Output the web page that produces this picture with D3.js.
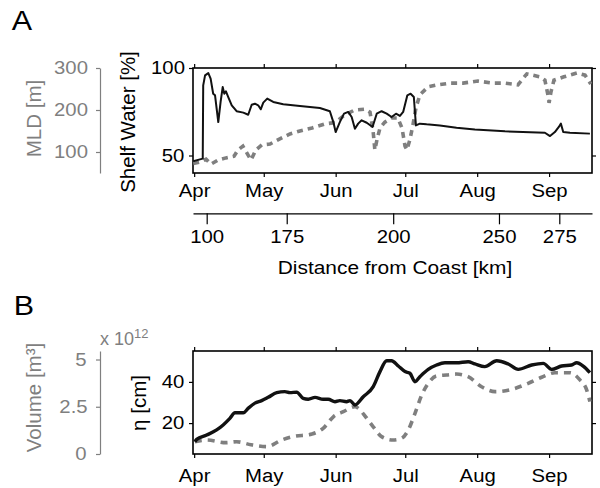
<!DOCTYPE html>
<html>
<head>
<meta charset="utf-8">
<script src="https://cdn.jsdelivr.net/npm/d3@7"></script>
<style>
  body { margin: 0; background: #fff; }
  svg text { font-family: "Liberation Sans", Arial, Helvetica, sans-serif; }
  .sx { transform-box: fill-box; transform-origin: center; transform: scaleX(1.13); }
</style>
</head>
<body>
<svg width="600" height="488"></svg>
<script>
// days after 1 April, value
const shelfWater = [[-0.4,46.7],[2.5,47.8],[3.7,48.2],[3.9,90.1],[4.7,95.8],[6.1,97.1],[7.1,93.9],
  [8.2,85.3],[9.0,84.4],[10.4,69.1],[11.4,80.6],[12.3,89.1],[13.0,85.3],[13.7,86.7],[14.7,83.4],
  [16.2,78.7],[18.3,75.3],[21.2,74.5],[23.3,73.3],[24.8,79],[26.2,79.6],[27.6,78.7],[28.7,76.4],
  [29.8,80.2],[31.5,82.5],[34.1,80.6],[38.4,79.3],[45.6,78.3],[54.2,77.1],[58.5,75.3],[60.0,69.1],
  [61.0,63.4],[62.8,69.1],[64.6,73.9],[66.4,74.9],[67.9,72],[69.3,65.3],[70.7,68.2],[72.2,70.1],
  [74.4,68.7],[76.9,66.3],[78.7,73.9],[80.8,75.3],[83.0,73.9],[85.1,72],[87.0,73.9],[88.7,72.6],
  [90.1,74.9],[91.9,84.4],[93.3,85.3],[94.7,83.4],[95.6,67.2],[97.3,68.2],[100.2,67.8],[105.9,67.2],
  [113.1,65.9],[121.0,64.8],[134.0,63.8],[151.2,63],[153.4,61.1],[155.5,63.4],[157.2,66.3],
  [158.1,68.2],[159.1,63.4],[162.0,63],[170.6,62.5]];

const mld = [[-0.4,72.6],[2.5,76],[5.1,83],[7.2,71],[10.3,81],[13.7,86],[17.2,90],[18.9,105],
  [21.0,114],[23.2,93],[24.5,81],[26.6,105],[29.2,117],[32.7,119],[36.1,129],[41.3,143],[45.6,150],
  [50.8,157],[56.4,167],[60.7,170],[64.9,188],[69.2,200],[73.5,202],[75.8,195],[77.1,152],[77.9,105],
  [78.8,129],[80.1,157],[82.2,171],[85.2,181],[87.8,181],[89.6,157],[90.9,114],[91.7,105],[93.0,129],
  [94.3,164],[95.6,205],[97.3,236],[100.8,255],[105.1,260],[110.3,264],[115.9,264],[122.3,269],
  [128.8,264],[134.0,264],[139.6,260],[143.4,286],[149.1,279],[151.2,271],[152.5,236],[153.0,217],
  [153.8,243],[155.1,271],[159.4,279],[165.0,288],[168.5,283],[171.0,262]];

const eta = [[0.3,11],[1.1,12.1],[5.4,14.2],[9.7,16.7],[12.5,19.1],[15.4,22.3],[17.6,25],[21.2,25],
  [23.3,27.2],[26.2,29.7],[29.1,30.9],[31.9,32.5],[35.6,34.8],[39.1,35.3],[41.3,34.8],[44.2,35],
  [47.0,32],[49.2,31.6],[52.1,32.5],[55.6,31.6],[57.8,31.6],[60.7,30.4],[62.8,30.9],[65.7,30.4],
  [67.2,30.9],[69.3,28.8],[72.9,32.8],[77.2,37.7],[80.1,45],[83.0,50.3],[85.1,50.3],[88.0,47.7],
  [90.9,45],[93.0,44.2],[95.2,40.1],[97.3,42.5],[100.9,46.1],[104.5,48.2],[108.1,49.3],[113.1,49.3],
  [118.1,49.8],[121.0,48.7],[125.3,47.4],[130.4,50.3],[135.4,48.7],[139.7,46.1],[145.5,48.2],
  [150.5,49],[154.1,46.1],[158.4,47.7],[162.7,48.2],[164.9,49.3],[167.7,47.7],[170.6,44.5]];

const volume = [[0.3,0.65],[5.4,0.74],[13.7,0.6],[18.3,0.65],[24.5,0.49],[31.3,0.39],[37.7,0.74],
  [42.6,0.92],[50.8,1.06],[55.6,1.36],[60.0,1.97],[64.3,2.24],[69.3,2.5],[74.4,1.89],[77.2,1.44],
  [80.8,0.92],[85.8,0.74],[89.4,0.83],[92.3,1.27],[95.2,2.15],[98.1,3.12],[100.9,3.74],[104.5,4.13],
  [108.8,4.18],[113.1,4.23],[118.1,4.09],[123.9,3.56],[129.7,3.3],[136.9,3.42],[144.0,3.74],
  [149.8,4.06],[155.5,4.3],[162.0,4.3],[166.3,3.92],[169.2,3.39],[170.6,2.77]];

const distKm = [100, 175, 200, 250, 275];
const distDay = [5.4, 39.9, 85.8, 131.4, 157.4];
const shelfTicks = [50, 100];
const mldTicks = [100, 200, 300];
const etaTicks = [20, 40];
const volTicks = [0, 2.5, 5];

const svg = d3.select("svg");
const GRAY = "#7f7f7f";
const start = Date.UTC(2007, 3, 1);
function toDate(d) { return new Date(start + d * 864e5); }

var x = d3.scaleUtc().domain([toDate(-0.5), toDate(171.5)]).range([193, 592]);
var monthTicks = d3.utcMonth.range(toDate(0), toDate(171.5));

function panel(top, bottom, y, yTicks, monthPad) {
  var g = svg.append("g");
  // month ticks, bottom
  var ax = g.append("g").attr("transform", "translate(0," + bottom + ")")
    .call(d3.axisBottom(x).tickValues(monthTicks).tickSize(4).tickPadding(monthPad)
      .tickFormat(d3.utcFormat("%b")));
  g.append("g").attr("transform", "translate(0," + top + ")")
    .call(d3.axisTop(x).tickValues(monthTicks).tickSize(4).tickFormat(""));
  var ay = g.append("g").attr("transform", "translate(193,0)")
    .call(d3.axisLeft(y).tickValues(yTicks).tickSize(4).tickPadding(6));
  g.append("g").attr("transform", "translate(592,0)")
    .call(d3.axisRight(y).tickValues(yTicks).tickSize(4).tickFormat(""));
  g.selectAll(".domain").remove();
  g.selectAll(".tick line").attr("stroke", "#000").attr("stroke-width", 1.2);
  g.selectAll(".tick text").attr("class", "sx").attr("fill", "#000").style("font-size", "18px");
  g.append("rect").attr("x", 193).attr("y", top).attr("width", 399).attr("height", bottom - top)
    .attr("fill", "none").attr("stroke", "#000").attr("stroke-width", 1.6);
  return g;
}

function grayAxis(y, ticks, fmt) {
  var g = svg.append("g").attr("transform", "translate(100,0)")
    .call(d3.axisLeft(y).tickValues(ticks).tickSize(4).tickSizeOuter(0).tickPadding(10).tickFormat(fmt));
  g.selectAll("path, line").attr("stroke", GRAY).attr("stroke-width", 1.2);
  g.selectAll("text").attr("class", "sx").attr("fill", GRAY).style("font-size", "18px");
  return g;
}

function clip(id, top, bottom) {
  svg.append("clipPath").attr("id", id).append("rect")
    .attr("x", 193).attr("y", top).attr("width", 399).attr("height", bottom - top);
}

// ---------- panel A ----------
var yA = d3.scaleLinear().domain([40, 100]).range([173, 68]);
var yMld = d3.scaleLinear().domain([50, 300]).range([173, 68]);
clip("clipA", 68, 173);
panel(68, 173, yA, shelfTicks, 7);
grayAxis(yMld, mldTicks, d3.format("d"));

svg.append("path").datum(mld).attr("clip-path", "url(#clipA)")
  .attr("fill", "none").attr("stroke", GRAY).attr("stroke-width", 3.6)
  .attr("stroke-dasharray", "6,5")
  .attr("d", d3.line().x(d => x(toDate(d[0]))).y(d => yMld(d[1])));
svg.append("path").datum(shelfWater).attr("clip-path", "url(#clipA)")
  .attr("fill", "none").attr("stroke", "#111").attr("stroke-width", 2).attr("stroke-linejoin", "round")
  .attr("d", d3.line().x(d => x(toDate(d[0]))).y(d => yA(d[1])));

// distance axis
var dAx = svg.append("g").attr("transform", "translate(0,213.3)")
  .call(d3.axisBottom(x).tickValues(distDay.map(toDate)).tickSize(11).tickSizeOuter(0).tickPadding(6)
    .tickFormat((d, i) => distKm[i]));
dAx.selectAll("path, line").attr("stroke", "#000").attr("stroke-width", 1.2);
dAx.selectAll("text").attr("class", "sx").attr("fill", "#000").style("font-size", "18px");

svg.append("text").attr("class", "sx").attr("x", 395).attr("y", 274).attr("text-anchor", "middle")
  .style("font-size", "18.5px").text("Distance from Coast [km]");

svg.append("text").attr("transform", "translate(41,118.5) rotate(-90)").attr("text-anchor", "middle")
  .attr("fill", GRAY).style("font-size", "20.5px").text("MLD [m]");
svg.append("text").attr("transform", "translate(135,122) rotate(-90)").attr("text-anchor", "middle")
  .style("font-size", "20.5px").text("Shelf Water [%]");
svg.append("text").attr("class", "sx").attr("x", 13).attr("y", 30).style("font-size", "27px").text("A");

// ---------- panel B ----------
var yB = d3.scaleLinear().domain([5, 55]).range([454, 351]);
var yVol = d3.scaleLinear().domain([0, 5.45]).range([454, 351]);
clip("clipB", 351, 454);
panel(351, 454, yB, etaTicks, 11);
grayAxis(yVol, volTicks, d => d);

svg.append("path").datum(volume).attr("clip-path", "url(#clipB)")
  .attr("fill", "none").attr("stroke", GRAY).attr("stroke-width", 3.6)
  .attr("stroke-dasharray", "7,6")
  .attr("d", d3.line().curve(d3.curveMonotoneX).x(d => x(toDate(d[0]))).y(d => yVol(d[1])));
svg.append("path").datum(eta).attr("clip-path", "url(#clipB)")
  .attr("fill", "none").attr("stroke", "#111").attr("stroke-width", 3.4).attr("stroke-linejoin", "round")
  .attr("d", d3.line().curve(d3.curveMonotoneX).x(d => x(toDate(d[0]))).y(d => yB(d[1])));

var sci = svg.append("text").attr("x", 100).attr("y", 345).attr("fill", GRAY).style("font-size", "18px");
sci.append("tspan").text("x 10");
sci.append("tspan").attr("dy", -7).style("font-size", "13px").text("12");

svg.append("text").attr("transform", "translate(41,397.5) rotate(-90)").attr("text-anchor", "middle")
  .attr("fill", GRAY).style("font-size", "20.5px").text("Volume [m³]");
svg.append("text").attr("transform", "translate(146,403) rotate(-90)").attr("text-anchor", "middle")
  .style("font-size", "20.5px").text("η [cm]");
svg.append("text").attr("class", "sx").attr("x", 15).attr("y", 315).style("font-size", "27px").text("B");
</script>
</body>
</html>
